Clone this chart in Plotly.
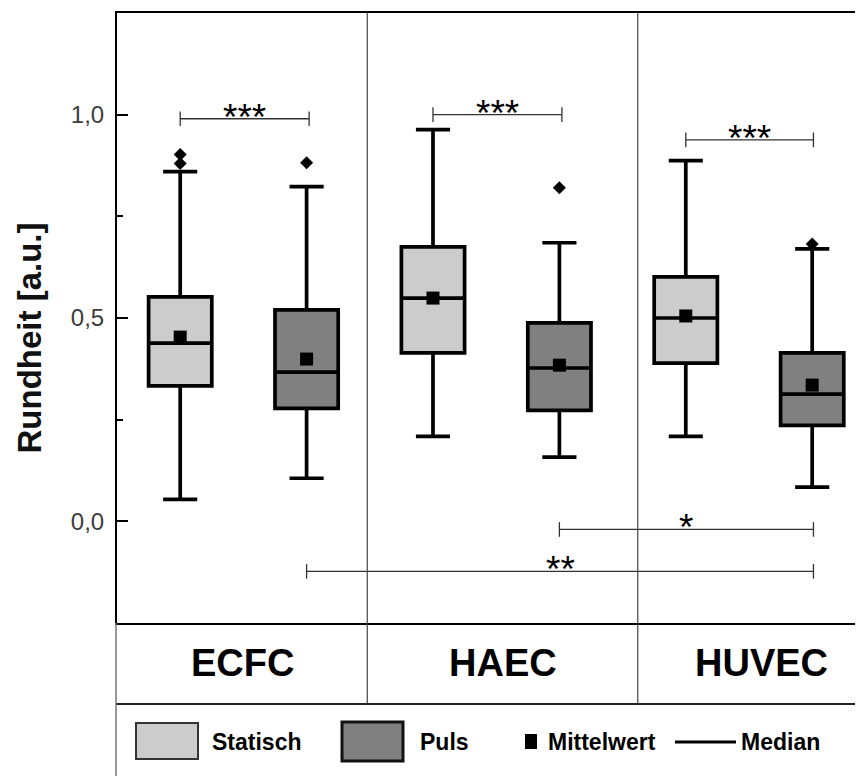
import plotly.graph_objects as go

# ---------------- data ----------------
positions = [1, 2, 3, 4, 5, 6]
cell_types = ["ECFC", "ECFC", "HAEC", "HAEC", "HUVEC", "HUVEC"]
conditions = ["Statisch", "Puls", "Statisch", "Puls", "Statisch", "Puls"]
q1_vals = [0.333, 0.278, 0.414, 0.273, 0.389, 0.236]
median_vals = [0.438, 0.367, 0.549, 0.377, 0.500, 0.313]
q3_vals = [0.552, 0.520, 0.675, 0.488, 0.601, 0.414]
lower_whisker = [0.054, 0.106, 0.209, 0.158, 0.209, 0.084]
upper_whisker = [0.860, 0.823, 0.963, 0.685, 0.887, 0.670]
mean_vals = [0.453, 0.399, 0.549, 0.384, 0.505, 0.335]
outlier_pos = [1, 1, 2, 4, 6]
outlier_vals = [0.902, 0.880, 0.882, 0.820, 0.682]

# significance brackets: (from position, to position, y value, label)
sig_from = [1.0, 3.0, 5.0, 4.0, 2.0]
sig_to = [2.02, 4.02, 6.01, 6.01, 6.01]
sig_y = [0.99, 1.0, 0.938, -0.02, -0.123]
sig_label = ["***", "***", "***", "*", "**"]

category_labels = ["ECFC", "HAEC", "HUVEC"]
category_centers = [1.49, 3.55, 5.6]
separators_x = [2.48, 4.62]

y_tickvals = [0.0, 0.5, 1.0]
y_ticktext = ["0,0", "0,5", "1,0"]

colors = {"Statisch": "#cccccc", "Puls": "#808080"}
FONT = "Liberation Sans, Arial, sans-serif"

fig = go.Figure()

for p, c, a, m, b, lo, hi in zip(positions, conditions, q1_vals, median_vals,
                                 q3_vals, lower_whisker, upper_whisker):
    fig.add_trace(go.Box(
        x=[p], q1=[a], median=[m], q3=[b], lowerfence=[lo], upperfence=[hi],
        width=0.5, whiskerwidth=0.54, boxpoints=False,
        fillcolor=colors[c], line=dict(color="black", width=3.7),
        showlegend=False, hoverinfo="skip",
    ))

fig.add_trace(go.Scatter(
    x=outlier_pos, y=outlier_vals, mode="markers",
    marker=dict(symbol="diamond", size=10, color="black"),
    showlegend=False, hoverinfo="skip"))

fig.add_trace(go.Scatter(
    x=positions, y=mean_vals, mode="markers",
    marker=dict(symbol="square", size=13, color="black"),
    showlegend=False, hoverinfo="skip"))

shapes = []
annotations = []

# significance brackets
for x0, x1, yv, lab in zip(sig_from, sig_to, sig_y, sig_label):
    lc = dict(color="#333333", width=1.3)
    shapes.append(dict(type="line", xref="x", yref="y", x0=x0, x1=x1, y0=yv, y1=yv, line=lc))
    for xe in (x0, x1):
        shapes.append(dict(type="line", xref="x", yref="y", x0=xe, x1=xe,
                           y0=yv - 0.018, y1=yv + 0.018, line=lc))
    annotations.append(dict(xref="x", yref="y", x=(x0 + x1) / 2, y=yv, text=lab,
                            showarrow=False, yanchor="bottom", yshift=-21,
                            font=dict(family=FONT, size=37, color="black")))

# vertical separators (plot + category row)
for sx in separators_x:
    shapes.append(dict(type="line", xref="x", yref="paper", x0=sx, x1=sx,
                       y0=1, y1=-0.1328, line=dict(color="#444444", width=1.2)))

# category row bottom line + left border down to the bottom
shapes.append(dict(type="line", xref="paper", yref="paper", x0=-0.0013, x1=1.0,
                   y0=-0.1328, y1=-0.1328, line=dict(color="#222222", width=2)))
shapes.append(dict(type="line", xref="paper", yref="paper", x0=-0.0013, x1=-0.0013,
                   y0=0, y1=-0.3, line=dict(color="#777777", width=1.5)))

for lab, cx in zip(category_labels, category_centers):
    annotations.append(dict(xref="x", yref="paper", x=cx, y=-0.0656, text="<b>%s</b>" % lab,
                            showarrow=False, xanchor="center", yanchor="middle",
                            font=dict(family=FONT, size=38, color="black")))

# legend row (custom); helpers map page pixels to paper coordinates
def px(xp):
    return (xp - 117) / 746.0

def py(yp):
    return (623 - yp) / 610.0

shapes.append(dict(type="rect", xref="paper", yref="paper", x0=px(136), x1=px(198),
                   y0=py(723), y1=py(759), fillcolor=colors["Statisch"],
                   line=dict(color="#333333", width=2)))
shapes.append(dict(type="rect", xref="paper", yref="paper", x0=px(342), x1=px(403),
                   y0=py(722), y1=py(761), fillcolor=colors["Puls"],
                   line=dict(color="#111111", width=3)))
shapes.append(dict(type="rect", xref="paper", yref="paper", x0=px(525), x1=px(537),
                   y0=py(734), y1=py(749), fillcolor="black", line=dict(width=0)))
shapes.append(dict(type="line", xref="paper", yref="paper", x0=px(675), x1=px(736),
                   y0=py(742), y1=py(742), line=dict(color="black", width=3)))

legend_texts = ["Statisch", "Puls", "Mittelwert", "Median"]
legend_left = [210, 418, 546, 739]
for t, lx in zip(legend_texts, legend_left):
    annotations.append(dict(xref="paper", yref="paper", x=px(lx), y=py(742), text="<b>%s</b>" % t,
                            showarrow=False, xanchor="left", yanchor="middle",
                            font=dict(family=FONT, size=23, color="black")))

# y axis title
annotations.append(dict(xref="paper", yref="paper", x=px(28.5), y=py(338),
                        text="<b>Rundheit [a.u.]</b>", textangle=-90, showarrow=False,
                        xanchor="center", yanchor="middle",
                        font=dict(family=FONT, size=33, color="#111111")))

# the page body adds an 8px offset, so the figure is 8px smaller and margins shifted
fig.update_layout(
    width=855, height=768,
    margin=dict(l=109, r=0, t=5, b=153, pad=0),
    paper_bgcolor="white", plot_bgcolor="white",
    showlegend=False,
    shapes=shapes, annotations=annotations,
    xaxis=dict(range=[0.5, 6.402], showline=True, mirror=True, linecolor="black",
               linewidth=2, showticklabels=False, ticks="", showgrid=False,
               zeroline=False, fixedrange=True),
    yaxis=dict(range=[-0.25, 1.25], showline=True, linecolor="black", linewidth=2,
               tickvals=y_tickvals, ticktext=y_ticktext, ticks="inside", ticklen=11,
               tickwidth=2, tickcolor="black", ticklabelstandoff=6,
               tickfont=dict(family=FONT, size=24, color="#3c3c3c"),
               minor=dict(dtick=0.25, tick0=0, ticks="inside", ticklen=6,
                          tickwidth=2, tickcolor="black"),
               showgrid=False, zeroline=False, fixedrange=True),
)

fig.write_html("out.html")
